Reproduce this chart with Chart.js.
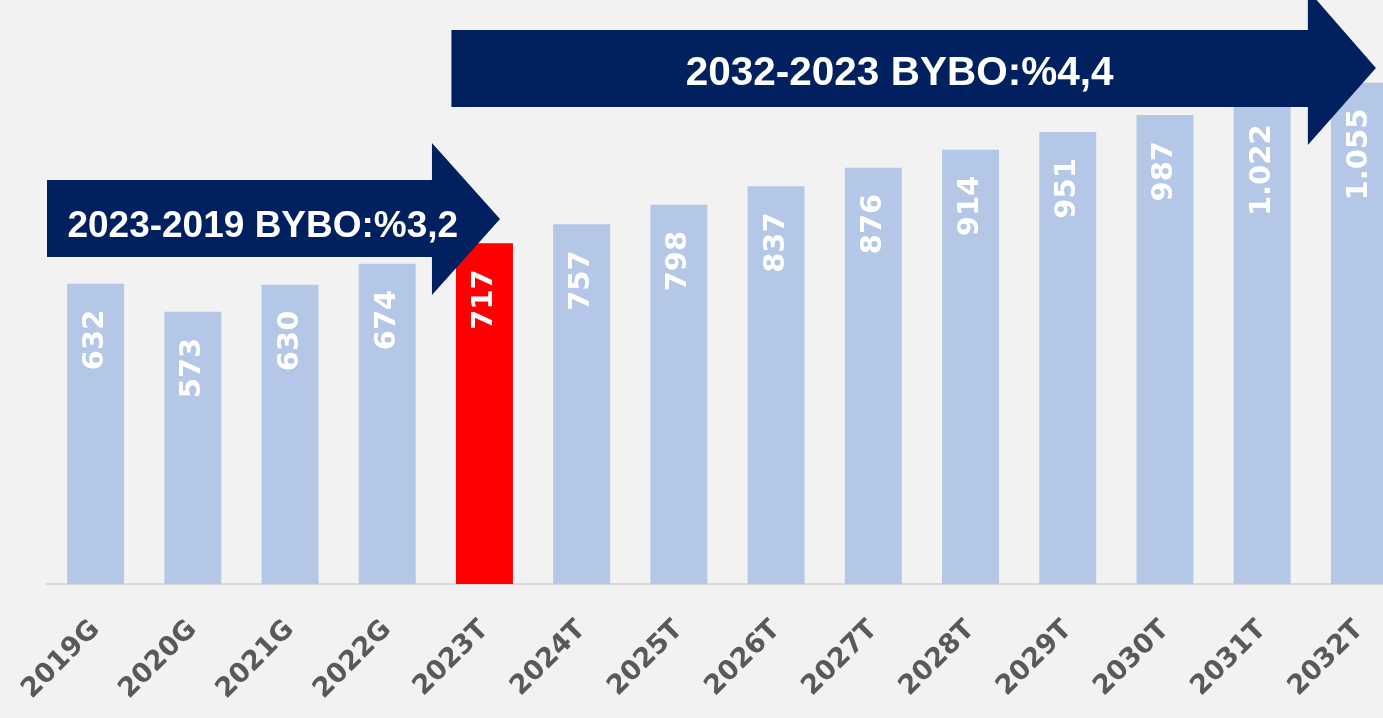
<!DOCTYPE html>
<html>
<head>
<meta charset="utf-8">
<script src="https://cdn.jsdelivr.net/npm/chart.js@4/dist/chart.umd.min.js"></script>
<style>
  html, body { margin: 0; padding: 0; background: #f2f2f2; overflow: hidden; }
  #wrap { position: relative; width: 1408px; height: 718px; }
</style>
</head>
<body>
<div id="wrap"><canvas id="c"></canvas></div>
<script>
const categories = ['2019G','2020G','2021G','2022G','2023T','2024T','2025T','2026T','2027T','2028T','2029T','2030T','2031T','2032T'];
const values = [632, 573, 630, 674, 717, 757, 798, 837, 876, 914, 951, 987, 1022, 1055];
const highlightIndex = 4;
const arrowTexts = ['2023-2019 BYBO:%3,2', '2032-2023 BYBO:%4,4'];

const BAR_COLOR = '#b4c7e7';
const RED = '#ff0000';
const NAVY = '#002060';

function fmt(v) {
  const s = String(v);
  return s.length > 3 ? s.slice(0, s.length - 3) + '.' + s.slice(-3) : s;
}

// Arrow geometry in data units (x: category index, y: value)
const arrows = [
  { x0: -0.5, xb: 3.46, xt: 4.16, bodyTop: 850, bodyBot: 688, headTop: 928, headBot: 608, tipY: 768,
    text: arrowTexts[0], tx: -0.29, ty: 730, align: 'left', font: 'bold 37px "Liberation Sans"' },
  { x0: 3.66, xb: 12.47, xt: 13.17, bodyTop: 1166, bodyBot: 1004, headTop: 1250, headBot: 924, tipY: 1086,
    text: arrowTexts[1], tx: 8.27, ty: 1050, align: 'center', font: 'bold 40.5px "Liberation Sans"' }
];

const barLabels = {
  id: 'barLabels',
  afterDatasetsDraw(chart) {
    const ctx = chart.ctx;
    const meta = chart.getDatasetMeta(0);
    ctx.save();
    ctx.fillStyle = '#ffffff';
    ctx.font = 'bold 29px "DejaVu Sans"';
    ctx.textAlign = 'right';
    ctx.textBaseline = 'middle';
    meta.data.forEach((bar, i) => {
      ctx.save();
      ctx.translate(bar.x, bar.y + 26);
      ctx.rotate(-Math.PI / 2);
      ctx.fillText(fmt(values[i]), 0, 0);
      ctx.restore();
    });
    ctx.restore();

    // arrows
    const xs = chart.scales.x, ys = chart.scales.y;
    arrows.forEach(a => {
      const X = v => xs.getPixelForValue(v);
      const Y = v => ys.getPixelForValue(v);
      ctx.save();
      ctx.fillStyle = NAVY;
      ctx.beginPath();
      ctx.moveTo(X(a.x0), Y(a.bodyTop));
      ctx.lineTo(X(a.xb), Y(a.bodyTop));
      ctx.lineTo(X(a.xb), Y(a.headTop));
      ctx.lineTo(X(a.xt), Y(a.tipY));
      ctx.lineTo(X(a.xb), Y(a.headBot));
      ctx.lineTo(X(a.xb), Y(a.bodyBot));
      ctx.lineTo(X(a.x0), Y(a.bodyBot));
      ctx.closePath();
      ctx.fill();
      ctx.fillStyle = '#ffffff';
      ctx.font = a.font;
      ctx.textAlign = a.align;
      ctx.textBaseline = 'alphabetic';
      ctx.fillText(a.text, X(a.tx), Y(a.ty));
      ctx.restore();
    });
  }
};

new Chart(document.getElementById('c'), {
  type: 'bar',
  data: {
    labels: categories,
    datasets: [{
      data: values,
      backgroundColor: values.map((v, i) => i === highlightIndex ? RED : BAR_COLOR),
      borderWidth: 0,
      barPercentage: 0.586,
      categoryPercentage: 1.0
    }]
  },
  options: {
    responsive: true,
    maintainAspectRatio: false,
    animation: false,
    layout: { padding: { left: 47, right: 0, top: 0, bottom: 0 } },
    plugins: { legend: { display: false }, tooltip: { enabled: false } },
    scales: {
      x: {
        grid: { display: false, drawTicks: false },
        border: { display: true, color: '#d9d9d9', width: 2 },
        ticks: {
          color: '#595959',
          font: { family: 'DejaVu Sans', weight: 'bold', size: 27 },
          minRotation: 45,
          maxRotation: 45,
          padding: 30,
          autoSkip: false
        },
        afterFit(scale) {
          scale.height = 134;
          scale.paddingLeft = 0;
          scale.paddingRight = 0;
        }
      },
      y: {
        display: false,
        min: 0,
        max: 1229
      }
    }
  },
  plugins: [barLabels]
});
</script>
</body>
</html>
